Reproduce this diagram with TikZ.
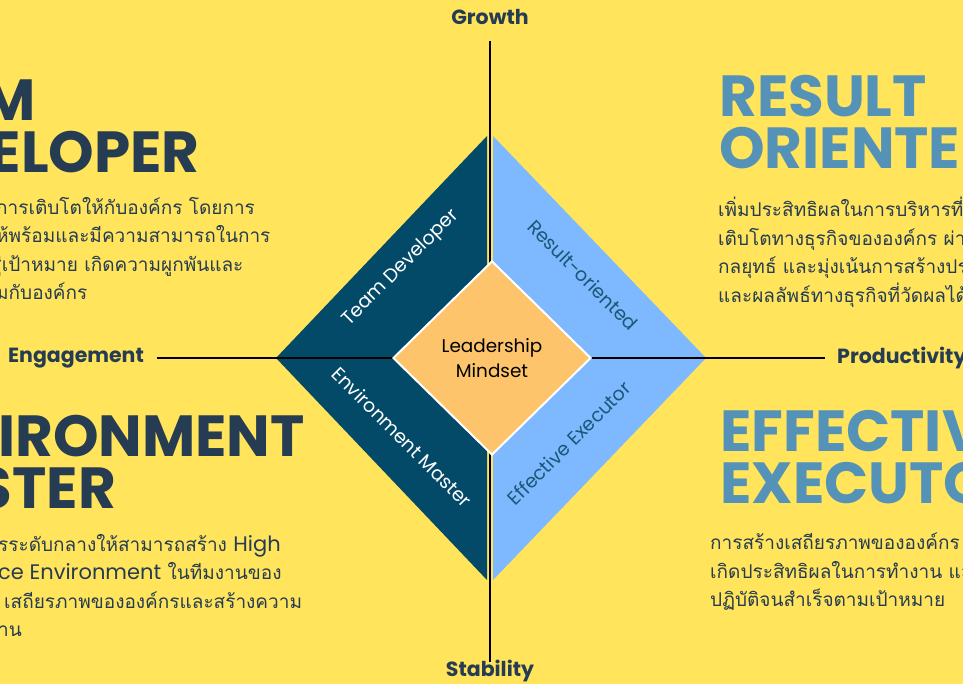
\documentclass[tikz,border=0pt]{standalone}
\usepackage{fontspec}
\setmainfont{Poppins}
\newfontfamily\thaifont[Script=Thai]{Loma}
\usetikzlibrary{shapes.geometric, positioning}
\definecolor{bgyellow}{HTML}{FFE45C}
\definecolor{navy}{HTML}{263C52}
\definecolor{darkteal}{HTML}{034A68}
\definecolor{skyblue}{HTML}{7EB8FF}
\definecolor{peach}{HTML}{FDC46B}
\definecolor{steel}{HTML}{5592B8}
\definecolor{deepteal}{HTML}{1B5877}
\newcommand{\latin}[1]{{\rmfamily\fontsize{21}{28.5}\selectfont #1}}

\begin{document}
\begin{tikzpicture}[x=1pt, y=-1pt,
    axislabel/.style={font=\fontsize{20.5}{20.5}\selectfont\bfseries, text=navy, inner sep=0pt},
    axisline/.style={draw=black, line width=2pt},
    bigtitle/.style={font=\fontsize{58}{52}\selectfont\bfseries, align=left, inner sep=0pt},
    body/.style={font=\thaifont\fontsize{19}{28.5}\selectfont, text=navy, align=left, inner sep=0pt},
    quadlabel/.style={font=\fontsize{19}{19}\selectfont, inner sep=0pt}]
  \clip (0,0) rectangle (963,684);
  \fill[bgyellow] (0,0) rectangle (963,684);

  % axes
  \node[axislabel] (growth) at (490,17) {Growth};
  \node[axislabel] (stability) at (490,671) {Stability};
  \node[axislabel] (engage) at (76,358) {Engagement};
  \node[axislabel, anchor=west] (product) at (837,358) {Productivity};
  \coordinate (axtop) at (490,41);
  \coordinate (axbot) at (490,662);
  \coordinate (axleft) at (157,358);
  \coordinate (axright) at (825,358);

  % the two halves of the big diamond
  \fill[darkteal] (276,358) -- (487,136) -- (487,580) -- cycle;
  \fill[skyblue] (493,136) -- (706,358) -- (493,580) -- cycle;

  \draw[axisline] (axtop) -- (axbot);
  \draw[axisline] (axleft) -- (axright);

  \node[diamond, fill=peach, draw=white, line width=2pt, minimum width=198pt, minimum height=194pt,
        inner sep=0pt, align=center, font=\fontsize{18.4}{25}\selectfont] (core) at (492,358) {Leadership\\Mindset};

  \node[quadlabel, text=white, rotate=45] (teamlbl) at (401,268) {Team Developer};
  \node[quadlabel, text=deepteal, rotate=-45] (resultlbl) at (583,275) {Result-oriented};
  \node[quadlabel, text=white, rotate=-45] (envlbl) at (402,437) {Environment Master};
  \node[quadlabel, text=deepteal, rotate=45] (execlbl) at (569,443) {Effective Executor};

  % titles
  \node[bigtitle, text=navy, anchor=north east] (teamtitle) at (200,80) {TEAM\\DEVELOPER};
  \node[bigtitle, text=navy, anchor=north east] (envtitle) at (305,415) {ENVIRONMENT\\MASTER};
  \node[bigtitle, text=steel, anchor=north west] (resulttitle) at (719,75) {RESULT\\ORIENTED};
  \node[bigtitle, text=steel, anchor=north west] (exectitle) at (720,410) {EFFECTIVE\\EXECUTOR};

  % descriptions
  \node[body, anchor=north west] (teamtext) at (-4,197) {การเติบโตให้กับองค์กร โดยการ\\ห้พร้อมและมีความสามารถในการ\\\hspace*{-6pt}สู่เป้าหมาย เกิดความผูกพันและ\\มกับองค์กร};
  \node[body, anchor=north west] (envtext) at (-2,534) {รระดับกลางให้สามารถสร้าง \latin{High}\\\latin{ce Environment} ในทีมงานของ\\\hspace*{6pt}เสถียรภาพขององค์กรและสร้างความ\\าน};
  \node[body, anchor=north west] (resulttext) at (718,197) {เพิ่มประสิทธิผลในการบริหารที่\\เติบโตทางธุรกิจขององค์กร ผ่าน\\กลยุทธ์ และมุ่งเน้นการสร้างประ\\และผลลัพธ์ทางธุรกิจที่วัดผลได้};
  \node[body, anchor=north west] (exectext) at (710,533) {การสร้างเสถียรภาพขององค์กร\\เกิดประสิทธิผลในการทำงาน และ\\ปฏิบัติจนสำเร็จตามเป้าหมาย};
\end{tikzpicture}
\end{document}
